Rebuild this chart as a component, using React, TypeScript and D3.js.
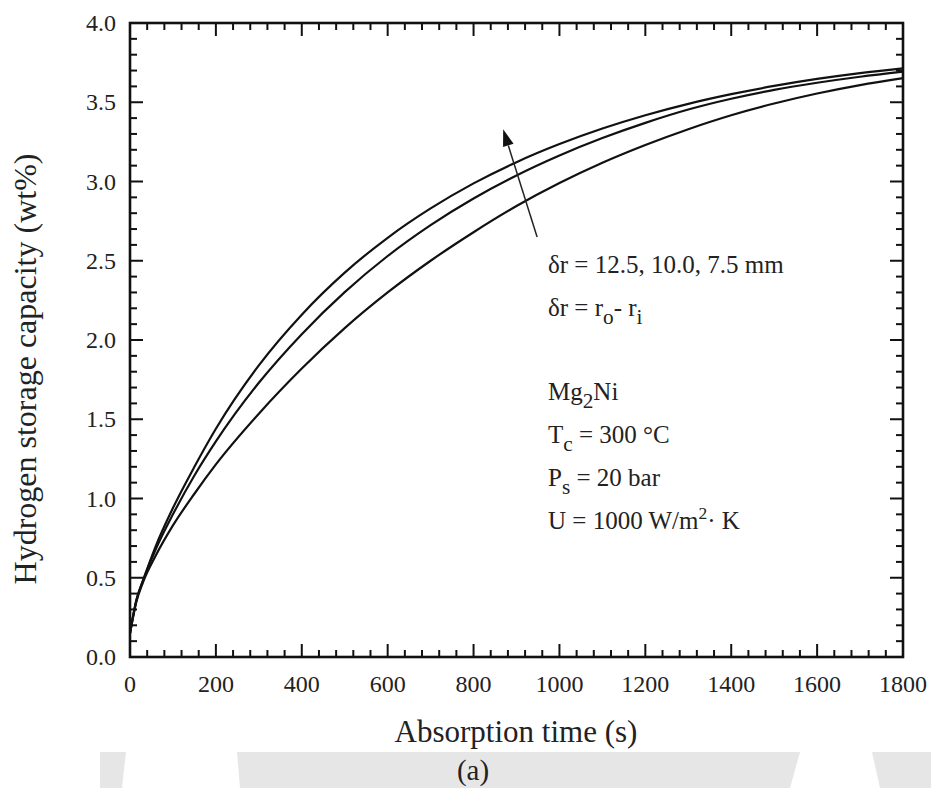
import React from 'react';
import * as d3 from 'd3';

const times = [0, 15, 30, 60, 100, 150, 200, 300, 400, 500, 600, 700, 800, 900, 1000, 1100, 1200, 1300, 1400, 1500, 1600, 1700, 1800];
// δr = 7.5 mm (top curve)
const series75 = [0.15, 0.36, 0.48, 0.7, 0.94, 1.2, 1.44, 1.84, 2.16, 2.425, 2.645, 2.83, 2.988, 3.122, 3.236, 3.334, 3.418, 3.49, 3.551, 3.603, 3.647, 3.684, 3.714];
// δr = 10.0 mm (middle curve)
const series100 = [0.15, 0.36, 0.48, 0.68, 0.9, 1.145, 1.36, 1.73, 2.037, 2.302, 2.53, 2.725, 2.893, 3.038, 3.164, 3.274, 3.37, 3.454, 3.522, 3.578, 3.623, 3.661, 3.693];
// δr = 12.5 mm (bottom curve)
const series125 = [0.15, 0.35, 0.47, 0.64, 0.83, 1.03, 1.215, 1.535, 1.82, 2.075, 2.3, 2.5, 2.68, 2.845, 2.99, 3.118, 3.23, 3.33, 3.418, 3.492, 3.555, 3.608, 3.652];

const xTicks = [0, 200, 400, 600, 800, 1000, 1200, 1400, 1600, 1800];
const yTicks = [0, 0.5, 1.0, 1.5, 2.0, 2.5, 3.0, 3.5, 4.0];
const xMinorStep = 40;

// arrow in data coordinates: tail -> tip
const arrowTail = [948, 2.65];
const arrowTip = [869, 3.33];

const FONT = '"Liberation Serif", "Times New Roman", serif';

export default function App() {
  const W = 931, H = 788;
  const left = 130, right = 903, top = 23, bottom = 657;
  const x = d3.scaleLinear().domain([0, 1800]).range([left, right]);
  const y = d3.scaleLinear().domain([0, 4]).range([bottom, top]);

  const line = d3.line<number>()
    .x((_, i) => x(times[i]))
    .y((d) => y(d))
    .curve(d3.curveMonotoneX);

  const xMinor = d3.range(0, 1800 + 1, xMinorStep).filter((v) => v % 200 !== 0);
  const yMinor = d3.range(0, 40 + 1, 1).map((v) => v / 10).filter((v) => Math.round(v * 10) % 5 !== 0);

  const majorLen = 13, minorLen = 7;
  const fmt = d3.format('.1f');

  // arrow geometry
  const ax1 = x(arrowTail[0]), ay1 = y(arrowTail[1]);
  const ax2 = x(arrowTip[0]), ay2 = y(arrowTip[1]);
  const ang = Math.atan2(ay2 - ay1, ax2 - ax1);
  const hl = 17, hw = 5.5;
  const bx = ax2 - hl * Math.cos(ang), by = ay2 - hl * Math.sin(ang);
  const px = -Math.sin(ang), py = Math.cos(ang);
  const head = `${ax2},${ay2} ${bx + hw * px},${by + hw * py} ${bx - hw * px},${by - hw * py}`;

  const ann = 548;
  const fs = 25;

  return (
    <svg width={W} height={H} style={{ position: 'absolute', left: 0, top: 0, background: '#fff' }} fontFamily={FONT}>
      <rect x={0} y={0} width={W} height={H} fill="#fff" />
      {/* faint watermark band */}
      <g fill="#e6e6e6">
        <polygon points="100,752 126,752 122,788 100,788" />
        <polygon points="237,752 800,752 790,788 240,788" />
        <polygon points="872,752 931,752 931,788 880,788" />
      </g>

      {/* curves */}
      <g fill="none" stroke="#111" strokeWidth={2.2}>
        <path d={line(series75) || ''} />
        <path d={line(series100) || ''} />
        <path d={line(series125) || ''} />
      </g>

      {/* arrow */}
      <line x1={ax1} y1={ay1} x2={bx} y2={by} stroke="#222" strokeWidth={1.5} />
      <polygon points={head} fill="#111" />

      {/* frame */}
      <rect x={left} y={top} width={right - left} height={bottom - top} fill="none" stroke="#111" strokeWidth={2.6} />

      {/* ticks */}
      <g stroke="#111" strokeWidth={2}>
        {xTicks.map((t) => (
          <g key={'xm' + t}>
            <line x1={x(t)} x2={x(t)} y1={bottom} y2={bottom - majorLen} />
            <line x1={x(t)} x2={x(t)} y1={top} y2={top + majorLen} />
          </g>
        ))}
        {xMinor.map((t) => (
          <g key={'xn' + t}>
            <line x1={x(t)} x2={x(t)} y1={bottom} y2={bottom - minorLen} />
            <line x1={x(t)} x2={x(t)} y1={top} y2={top + minorLen} />
          </g>
        ))}
        {yTicks.map((t) => (
          <g key={'ym' + t}>
            <line x1={left} x2={left + majorLen} y1={y(t)} y2={y(t)} />
            <line x1={right} x2={right - majorLen} y1={y(t)} y2={y(t)} />
          </g>
        ))}
        {yMinor.map((t) => (
          <g key={'yn' + t}>
            <line x1={left} x2={left + minorLen} y1={y(t)} y2={y(t)} />
            <line x1={right} x2={right - minorLen} y1={y(t)} y2={y(t)} />
          </g>
        ))}
      </g>

      {/* tick labels */}
      <g fontSize={24} fill="#222">
        {xTicks.map((t) => (
          <text key={'xl' + t} x={x(t)} y={692} textAnchor="middle">{t}</text>
        ))}
        {yTicks.map((t) => (
          <text key={'yl' + t} x={116} y={y(t) + 8} textAnchor="end">{fmt(t)}</text>
        ))}
      </g>

      {/* axis titles */}
      <text x={516} y={742} fontSize={31} textAnchor="middle" fill="#222">Absorption time (s)</text>
      <text transform={`translate(36,${369}) rotate(-90)`} fontSize={32} textAnchor="middle" fill="#222">Hydrogen storage capacity (wt%)</text>
      <text x={473} y={780} fontSize={29} textAnchor="middle" fill="#222">(a)</text>

      {/* annotations */}
      <g fontSize={fs} fill="#222">
        <text x={ann} y={273}>δr = 12.5, 10.0, 7.5 mm</text>
        <text x={ann} y={316}>δr = r<tspan fontSize={fs * 0.85} dy={8}>o</tspan><tspan dy={-8}>- r</tspan><tspan fontSize={fs * 0.85} dy={8}>i</tspan></text>
        <text x={ann} y={400}>Mg<tspan fontSize={fs * 0.85} dy={8}>2</tspan><tspan dy={-8}>Ni</tspan></text>
        <text x={ann} y={443}>T<tspan fontSize={fs * 0.85} dy={8}>c</tspan><tspan dy={-8}> = 300 °C</tspan></text>
        <text x={ann} y={486}>P<tspan fontSize={fs * 0.85} dy={8}>s</tspan><tspan dy={-8}> = 20 bar</tspan></text>
        <text x={ann} y={529}>U = 1000 W/m<tspan fontSize={fs * 0.7} dy={-10}>2</tspan><tspan dy={10}>· K</tspan></text>
      </g>
    </svg>
  );
}
